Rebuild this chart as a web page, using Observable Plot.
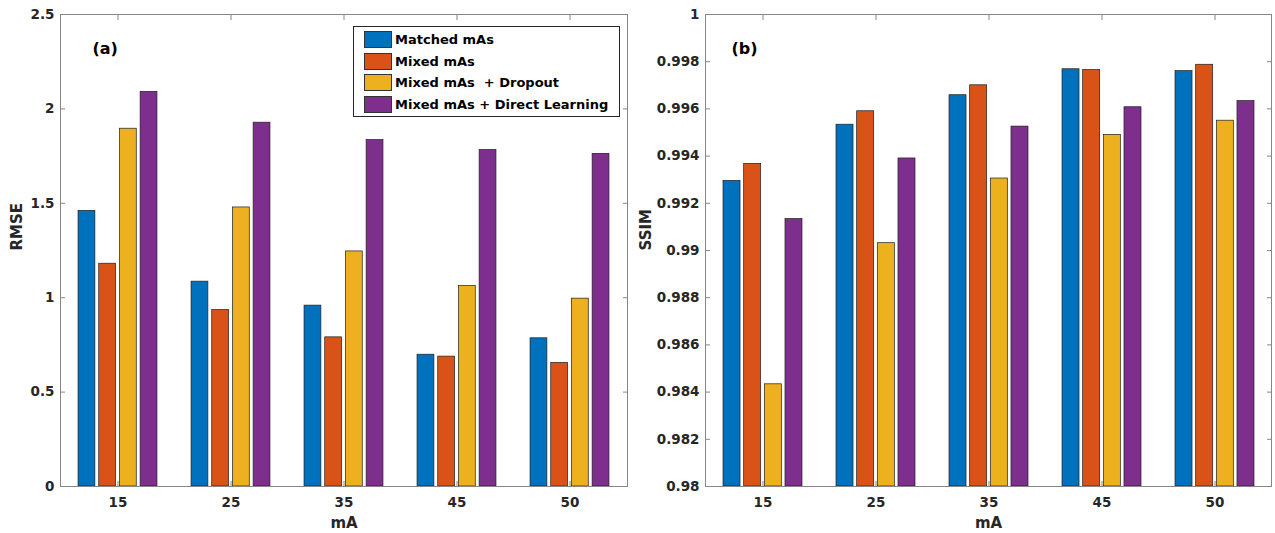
<!DOCTYPE html>
<html><head><meta charset="utf-8">
<script src="https://cdn.jsdelivr.net/npm/d3@7"></script>
<script src="https://cdn.jsdelivr.net/npm/@observablehq/plot@0.6"></script>
<style>
body{margin:0;background:#fff;}
#wrap{position:relative;width:1275px;height:533px;font-family:"DejaVu Sans";font-weight:bold;color:#262626;overflow:hidden;}
.panel{position:absolute;top:0;}
#legend{position:absolute;left:353px;top:26px;width:267px;height:91px;border:1px solid #262626;background:#fff;box-sizing:border-box;font-size:13px;color:#000;}
.row{position:absolute;left:10px;height:17px;display:flex;align-items:center;white-space:pre;}
.sw{width:28px;height:17px;border:1px solid #333;box-sizing:border-box;margin-right:3px;}
</style>
</head><body>
<div id="wrap"></div>
<script>
const mAs = ["15", "25", "35", "45", "50"];
const seriesNames = ["Matched mAs", "Mixed mAs", "Mixed mAs  + Dropout", "Mixed mAs + Direct Learning"];
const seriesColors = ["#0072BD", "#D95319", "#EDB120", "#7E2F8E"];

const rmseMatched = [1.46, 1.085, 0.958, 0.698, 0.785];
const rmseMixed = [1.18, 0.935, 0.79, 0.688, 0.655];
const rmseDropout = [1.895, 1.478, 1.245, 1.062, 0.995];
const rmseDirect = [2.09, 1.927, 1.835, 1.782, 1.762];

const ssimMatched = [0.99295, 0.99533, 0.99658, 0.99768, 0.99760];
const ssimMixed = [0.99367, 0.99590, 0.99700, 0.99765, 0.99787];
const ssimDropout = [0.98433, 0.99031, 0.99305, 0.99490, 0.99550];
const ssimDirect = [0.99133, 0.99390, 0.99525, 0.99607, 0.99633];

const rmseTicks = [0, 0.5, 1, 1.5, 2, 2.5];
const ssimTicks = [0.98, 0.982, 0.984, 0.986, 0.988, 0.99, 0.992, 0.994, 0.996, 0.998, 1];

const frameGray = "#868686";

function panel({series, ticks, tickFormat, yLabel, tag, width, ml, mr, labelOffset, tagDx}) {
  const mt = 14, mb = 47, height = 533;
  const bw = (width - ml - mr) / mAs.length;
  const pitch = bw * 0.1825;
  const barW = bw * 0.152;
  const base = ticks[0];
  const marks = [];
  series.forEach((vals, i) => {
    const data = mAs.map((m, j) => ({mA: m, value: vals[j], base}));
    marks.push(Plot.barY(data, {
      x: "mA", y1: "base", y2: "value",
      fill: seriesColors[i], stroke: "#1e1e1e", strokeWidth: 0.7,
      insetLeft: (bw - barW) / 2, insetRight: (bw - barW) / 2,
      dx: (i - 1.5) * pitch
    }));
  });
  marks.push(
    Plot.axisY({ticks, tickFormat, tickSize: 0, tickPadding: 6, fontSize: 13.5, label: null, fill: "#262626"}),
    Plot.axisY({ticks, tickSize: -5, text: null, label: null, stroke: frameGray}),
    Plot.axisY({ticks, anchor: "right", tickSize: -5, text: null, label: null, stroke: frameGray}),
    Plot.axisX({tickSize: 0, tickPadding: 11, fontSize: 13.5, label: null, fill: "#262626"}),
    Plot.axisX({anchor: "bottom", tickSize: -5, text: null, label: null, stroke: frameGray}),
    Plot.axisX({anchor: "top", tickSize: -5, text: null, label: null, stroke: frameGray}),
    Plot.frame({stroke: frameGray}),
    Plot.text([yLabel], {text: d => d, frameAnchor: "left", rotate: -90, dx: -labelOffset, fontSize: 15, fill: "#262626"}),
    Plot.text(["mA"], {text: d => d, frameAnchor: "bottom", dy: 41, fontSize: 15, fill: "#262626"}),
    Plot.text([tag], {text: d => d, frameAnchor: "top-left", textAnchor: "start", dx: tagDx, dy: 28, fontSize: 16, fill: "#000"})
  );
  return Plot.plot({
    width, height,
    marginLeft: ml, marginRight: mr, marginTop: mt, marginBottom: mb,
    style: {fontFamily: "DejaVu Sans", fontWeight: "bold", background: "#fff", overflow: "visible"},
    x: {type: "band", domain: mAs, padding: 0},
    y: {domain: [ticks[0], ticks[ticks.length - 1]]},
    marks
  });
}

const wrap = document.getElementById("wrap");
const left = panel({
  series: [rmseMatched, rmseMixed, rmseDropout, rmseDirect],
  ticks: rmseTicks, tickFormat: d => String(d),
  yLabel: "RMSE", tag: "(a)", width: 640, ml: 60, mr: 13, labelOffset: 43, tagDx: 32
});
left.classList.add("panel"); left.style.left = "0px";
wrap.appendChild(left);

const right = panel({
  series: [ssimMatched, ssimMixed, ssimDropout, ssimDirect],
  ticks: ssimTicks, tickFormat: d => String(+d.toFixed(3)),
  yLabel: "SSIM", tag: "(b)", width: 635, ml: 65, mr: 4, labelOffset: 59, tagDx: 26
});
right.classList.add("panel"); right.style.left = "640px";
wrap.appendChild(right);

const legend = document.createElement("div");
legend.id = "legend";
seriesNames.forEach((name, i) => {
  const row = document.createElement("div");
  row.className = "row";
  row.style.top = (4 + i * 21.5) + "px";
  const sw = document.createElement("div");
  sw.className = "sw";
  sw.style.background = seriesColors[i];
  row.appendChild(sw);
  const t = document.createElement("span");
  t.textContent = name;
  row.appendChild(t);
  legend.appendChild(row);
});
wrap.appendChild(legend);
</script>
</body></html>
